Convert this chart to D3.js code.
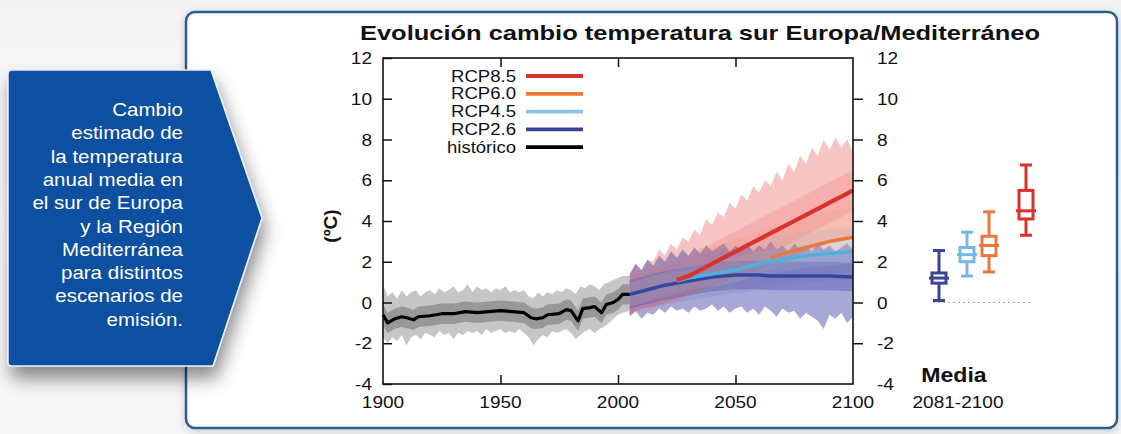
<!DOCTYPE html>
<html><head><meta charset="utf-8">
<script src="https://cdn.jsdelivr.net/npm/d3@7"></script>
<style>
html,body{margin:0;padding:0;background:#fff;}
svg{display:block;font-family:"Liberation Sans",Arial,sans-serif;}
</style></head>
<body><svg id="c" width="1121" height="434"></svg>
<script>
// ---------- DATA ----------
const title = "Evolución cambio temperatura sur Europa/Mediterráneo";
const calloutLines = ["Cambio","estimado de","la temperatura","anual media en","el sur de Europa","y la Región","Mediterránea","para distintos","escenarios de","emisión."];
const yTicks = [-4,-2,0,2,4,6,8,10,12];
const xTicks = [1900,1950,2000,2050,2100];
const scenarios = ["RCP8.5","RCP6.0","RCP4.5","RCP2.6","histórico"];

// historical ensemble mean
const histYears = [1900,1902,1905,1908,1910,1913,1915,1920,1925,1930,1935,1940,1945,1950,1955,1960,1963,1965,1968,1970,1975,1978,1980,1983,1985,1988,1990,1993,1995,1998,2000,2002,2005];
const histMean  = [-0.6,-1.0,-0.8,-0.7,-0.75,-0.85,-0.7,-0.65,-0.55,-0.55,-0.45,-0.5,-0.45,-0.4,-0.45,-0.5,-0.75,-0.8,-0.75,-0.6,-0.55,-0.35,-0.4,-0.9,-0.3,-0.25,-0.2,-0.5,-0.1,0.0,0.15,0.4,0.4];
// historical envelope (outer spread of members)
const envHistYears = [1900,1902,1904,1906,1908,1910,1912,1914,1916,1918,1920,1922,1924,1926,1928,1930,1932,1934,1936,1938,1940,1942,1944,1946,1948,1950,1952,1954,1956,1958,1960,1962,1964,1966,1968,1970,1972,1974,1976,1978,1980,1982,1984,1986,1988,1990,1992,1994,1996,1998,2000,2002,2005];
const histUpper = [0.9,0.3,0.5,0.2,0.6,0.3,0.5,0.6,0.3,0.5,0.6,0.4,0.7,0.5,0.6,0.8,0.5,0.6,0.9,0.5,0.8,0.6,0.7,0.5,0.7,0.6,0.8,0.5,0.6,0.5,0.6,0.3,0.2,0.5,0.3,0.5,0.4,0.6,0.5,0.7,0.6,0.4,0.8,0.7,0.9,0.8,0.6,0.9,1.0,1.1,1.2,1.3,1.3];
const histLower = [-1.7,-2.0,-1.7,-1.9,-1.6,-2.1,-1.7,-1.6,-1.8,-1.5,-1.6,-1.7,-1.4,-1.6,-1.5,-1.8,-1.5,-1.6,-1.4,-1.5,-1.4,-1.6,-1.3,-1.5,-1.4,-1.3,-1.5,-1.4,-1.5,-1.3,-1.5,-1.7,-2.1,-1.8,-1.6,-1.7,-1.4,-1.5,-1.4,-1.3,-1.5,-1.8,-1.6,-1.4,-1.3,-1.5,-1.3,-1.2,-1.0,-0.8,-0.6,-0.5,-0.4];

// projections (2005-2100), ensemble means
const projYears = [2005,2010,2015,2020,2025,2030,2035,2040,2045,2050,2055,2060,2065,2070,2075,2080,2085,2090,2095,2100];
const rcp85 = [0.4,0.55,0.7,0.9,1.1,1.3,1.6,1.9,2.2,2.5,2.8,3.1,3.4,3.7,4.0,4.3,4.6,4.9,5.2,5.5];
const rcp60 = [0.4,0.55,0.7,0.8,0.9,1.0,1.15,1.3,1.45,1.6,1.8,2.0,2.2,2.4,2.55,2.7,2.85,3.0,3.1,3.2];
const rcp45 = [0.4,0.55,0.75,0.9,1.05,1.2,1.3,1.4,1.5,1.6,1.75,1.9,2.0,2.1,2.2,2.3,2.35,2.4,2.45,2.5];
const rcp26 = [0.4,0.55,0.7,0.85,0.95,1.05,1.15,1.25,1.3,1.35,1.35,1.35,1.3,1.3,1.3,1.3,1.3,1.3,1.28,1.25];
// projection member envelopes (5-year)
const rcp85Lower = [-0.6,-0.3,-0.2,0.0,0.2,0.4,0.6,0.8,1.0,1.2,1.4,1.6,1.9,2.1,2.3,2.5,2.7,2.9,3.0,3.2];
const rcp60Upper = [1.2,1.5,1.7,1.9,2.1,2.3,2.5,2.7,2.9,3.1,3.3,3.5,3.7,3.9,4.1,4.3,4.4,4.5,4.6,4.6];
const rcp60Lower = [-0.5,-0.3,-0.2,-0.1,0.0,0.1,0.2,0.3,0.4,0.5,0.6,0.8,0.9,1.0,1.1,1.2,1.3,1.4,1.5,1.5];
const rcp45Upper = [1.2,1.5,1.7,1.9,2.1,2.3,2.4,2.6,2.7,2.8,3.0,3.1,3.2,3.3,3.4,3.5,3.5,3.6,3.6,3.6];
const rcp45Lower = [-0.5,-0.3,-0.2,-0.1,0.0,0.1,0.2,0.3,0.35,0.4,0.5,0.6,0.7,0.8,0.9,1.0,1.0,1.1,1.1,1.2];
// finer envelopes (every 2.5 years, 2005-2100)
const fineYears = [2005,2007.5,2010,2012.5,2015,2017.5,2020,2022.5,2025,2027.5,2030,2032.5,2035,2037.5,2040,2042.5,2045,2047.5,2050,2052.5,2055,2057.5,2060,2062.5,2065,2067.5,2070,2072.5,2075,2077.5,2080,2082.5,2085,2087.5,2090,2092.5,2095,2097.5,2100];
const rcp85Upper = [1.4,1.9,1.6,2.1,2.0,2.6,2.3,2.9,2.6,3.2,3.0,3.6,3.3,4.1,3.8,4.4,4.2,4.9,4.6,5.3,5.0,5.7,5.4,6.0,5.7,6.4,6.0,6.8,6.4,7.2,6.8,7.6,7.2,8.0,7.5,8.1,7.6,8.0,7.4];
const rcp26Lower = [-0.7,-0.4,-0.8,-0.5,-0.6,-0.3,-0.5,-0.2,-0.4,-0.3,-0.5,-0.2,-0.4,-0.3,-0.1,-0.4,-0.2,-0.5,-0.3,-0.2,-0.5,-0.3,-0.6,-0.2,-0.4,-0.7,-0.3,-0.5,-0.4,-0.8,-0.5,-0.7,-0.9,-1.3,-0.6,-0.8,-0.5,-1.0,-0.7];
const rcp26Upper = [1.4,1.9,1.6,2.1,1.8,2.3,2.0,2.5,2.2,2.6,2.3,2.7,2.4,2.8,2.5,2.7,2.9,2.5,2.8,2.6,2.9,2.5,2.8,2.6,3.0,2.6,2.8,2.5,2.9,2.6,2.8,2.5,2.9,2.6,2.8,2.5,2.7,2.9,2.6];

// box plots 2081-2100 : [low whisker, q1, median, q3, high whisker]
const boxNames = ["RCP2.6","RCP4.5","RCP6.0","RCP8.5"];
const boxLow  = [0.1,1.3,1.5,3.3];
const boxQ1   = [0.95,2.0,2.3,4.1];
const boxMed  = [1.2,2.35,2.8,4.5];
const boxQ3   = [1.45,2.7,3.25,5.5];
const boxHigh = [2.55,3.45,4.45,6.75];

// ---------- STYLE ----------
const colors = {"RCP8.5":"#d8332a","RCP6.0":"#e8793a","RCP4.5":"#8cc3e8","RCP2.6":"#3a4496","histórico":"#000"};
const meanColors = {"RCP8.5":"#d8332a","RCP6.0":"#e8793a","RCP4.5":"#4fb0e0","RCP2.6":"#3446a0"};
const bandColors = {"RCP8.5":"#ee7070","RCP6.0":"#f0a070","RCP4.5":"#90c0e8","RCP2.6":"#5152b0"};
const boxColors = {"RCP2.6":"#3a4496","RCP4.5":"#74b6e4","RCP6.0":"#e8793a","RCP8.5":"#d8332a"};

const svg = d3.select("#c");
const defs = svg.append("defs");
const f1 = defs.append("filter").attr("id","sh").attr("x","-20%").attr("y","-20%").attr("width","150%").attr("height","160%");
f1.append("feDropShadow").attr("dx",3).attr("dy",12).attr("stdDeviation",9).attr("flood-color","#000").attr("flood-opacity",0.45);
const f2 = defs.append("filter").attr("id","sh2").attr("x","-5%").attr("y","-5%").attr("width","110%").attr("height","115%");
f2.append("feDropShadow").attr("dx",0).attr("dy",2).attr("stdDeviation",4).attr("flood-color","#000").attr("flood-opacity",0.18);

const bg = defs.append("linearGradient").attr("id","bg").attr("x1",0).attr("y1",0).attr("x2",0).attr("y2",1);
bg.append("stop").attr("offset","0").attr("stop-color","#f3f3f3");
bg.append("stop").attr("offset","0.5").attr("stop-color","#fdfdfd");
bg.append("stop").attr("offset","1").attr("stop-color","#f6f6f6");
svg.append("rect").attr("width",1121).attr("height",434).attr("fill","url(#bg)");

// panel
svg.append("rect").attr("x",186).attr("y",12).attr("width",931).attr("height",416).attr("rx",9)
  .attr("fill","#fff").attr("stroke","#2b5c92").attr("stroke-width",2.5).attr("filter","url(#sh2)");

// ---------- CHART ----------
const x = d3.scaleLinear().domain([1900,2100]).range([383,853]);
const y = d3.scaleLinear().domain([-4,12]).range([384,58]);

const areaXY = (xl, lo, xh, hi) => {
  // polygon: upper edge forward, lower edge back
  const pts = xh.map((t,i)=>[x(t),y(hi[i])]).concat(xl.map((t,i)=>[x(t),y(lo[i])]).reverse());
  return d3.line()(pts) + "Z";
};
const line = (xs, v) => d3.line().x((d,i)=>x(xs[i])).y((d,i)=>y(v[i]))(xs);

const plot = svg.append("g");
// historical spread
plot.append("path").attr("d",areaXY(envHistYears,histLower,envHistYears,histUpper)).attr("fill","#a0a0a0").attr("opacity",0.6);
plot.append("path").attr("d",areaXY(histYears,histMean.map(v=>v-0.5),histYears,histMean.map(v=>v+0.5))).attr("fill","#6a6a6a").attr("opacity",0.5);

// projection spreads
const proj = [
  ["RCP8.5",projYears,rcp85Lower,fineYears,rcp85Upper,0.42],
  ["RCP6.0",projYears,rcp60Lower,projYears,rcp60Upper,0.16],
  ["RCP4.5",projYears,rcp45Lower,projYears,rcp45Upper,0.18],
  ["RCP2.6",fineYears,rcp26Lower,fineYears,rcp26Upper,0.5]
];
proj.forEach(([n,xl,lo,xh,hi,op])=>{
  plot.append("path").attr("d",areaXY(xl,lo,xh,hi)).attr("fill",bandColors[n]).attr("opacity",op);
});
// denser core of each ensemble
const core = [["RCP8.5",rcp85,1.0,0.25],["RCP2.6",rcp26,0.7,0.4],["RCP4.5",rcp45,0.6,0.2],["RCP6.0",rcp60,0.6,0.15]];
core.forEach(([n,m,w,op])=>{
  plot.append("path").attr("d",areaXY(projYears,m.map(v=>v-w),projYears,m.map(v=>v+w))).attr("fill",bandColors[n]).attr("opacity",op);
});

// means
plot.append("path").attr("d",line(histYears,histMean)).attr("fill","none").attr("stroke","#000").attr("stroke-width",3.2).attr("stroke-linejoin","round");
[["RCP2.6",rcp26],["RCP4.5",rcp45],["RCP6.0",rcp60],["RCP8.5",rcp85]].forEach(([n,v])=>{
  const start = n==="RCP8.5"?4:(n==="RCP6.0"?12:(n==="RCP4.5"?4:0));
  plot.append("path").attr("d",line(projYears.slice(start),v.slice(start))).attr("fill","none")
    .attr("stroke",meanColors[n]).attr("stroke-width",n==="RCP8.5"?4.2:3.5).attr("stroke-linejoin","round");
});

// frame
svg.append("rect").attr("x",383).attr("y",58).attr("width",470).attr("height",326).attr("fill","none").attr("stroke","#111").attr("stroke-width",1.6);

// axes ticks
const axL = svg.append("g").attr("transform","translate(383,0)").call(d3.axisRight(y).tickValues(yTicks).tickSize(9).tickFormat(""));
axL.select(".domain").remove();
const axR = svg.append("g").attr("transform","translate(853,0)").call(d3.axisRight(y).tickValues(yTicks.filter(v=>v>-4&&v<12)).tickSize(10).tickFormat(""));
axR.select(".domain").remove();
const axB = svg.append("g").attr("transform","translate(0,384)").call(d3.axisTop(x).tickValues(xTicks.slice(1,4)).tickSize(9).tickFormat(""));
axB.select(".domain").remove();
const axT = svg.append("g").attr("transform","translate(0,58)").call(d3.axisBottom(x).tickValues(xTicks.slice(1,4)).tickSize(9).tickFormat(""));
axT.select(".domain").remove();
svg.selectAll(".tick line").attr("stroke","#111").attr("stroke-width",1.5);

// tick labels (slightly wide, as in the original)
const wide = (sel, ax, ay, sx) => sel.attr("transform",`translate(${ax},${ay}) scale(${sx},1)`);
svg.append("g").selectAll("text").data(yTicks).join("text")
  .attr("text-anchor","end").attr("font-size",17).attr("fill","#111").text(d=>d)
  .each(function(d){ wide(d3.select(this),372,y(d)+6,1.12); });
svg.append("g").selectAll("text").data(yTicks).join("text")
  .attr("text-anchor","start").attr("font-size",17).attr("fill","#111").text(d=>d)
  .each(function(d){ wide(d3.select(this),877,y(d)+6,1.12); });
svg.append("g").selectAll("text").data(xTicks).join("text")
  .attr("text-anchor","middle").attr("font-size",17).attr("fill","#111").text(d=>d)
  .each(function(d){ wide(d3.select(this),x(d),408,1.12); });

// y label
svg.append("text").attr("transform","translate(337,226) rotate(-90)").attr("text-anchor","middle")
  .attr("font-size",19).attr("font-weight","bold").attr("fill","#111").text("(ºC)");

// title
svg.append("text").attr("x",360).attr("y",40).attr("font-size",21).attr("font-weight","bold").attr("fill","#111")
  .attr("textLength",680).attr("lengthAdjust","spacingAndGlyphs").text(title);

// legend
const leg = svg.append("g");
scenarios.forEach((s,i)=>{
  const yy = 76 + i*17.8;
  leg.append("text").attr("text-anchor","end").attr("font-size",16).attr("fill","#111").text(s)
    .attr("transform",`translate(516,${yy+5.5}) scale(1.16,1)`);
  leg.append("line").attr("x1",526).attr("x2",583).attr("y1",yy).attr("y2",yy).attr("stroke",colors[s]).attr("stroke-width",3.8);
});

// box plots
const bx = d3.scaleOrdinal().domain(boxNames).range([939,967,989,1026]);
svg.append("line").attr("x1",933).attr("x2",1030).attr("y1",y(0)).attr("y2",y(0)).attr("stroke","#aaa").attr("stroke-width",1).attr("stroke-dasharray","2,3");
boxNames.forEach((n,i)=>{
  const g = svg.append("g").attr("stroke",boxColors[n]).attr("stroke-width",3).attr("fill","none");
  const cx = bx(n);
  g.append("line").attr("x1",cx).attr("x2",cx).attr("y1",y(boxLow[i])).attr("y2",y(boxHigh[i]));
  g.append("line").attr("x1",cx-6).attr("x2",cx+6).attr("y1",y(boxLow[i])).attr("y2",y(boxLow[i]));
  g.append("line").attr("x1",cx-6).attr("x2",cx+6).attr("y1",y(boxHigh[i])).attr("y2",y(boxHigh[i]));
  g.append("rect").attr("x",cx-7).attr("width",14).attr("y",y(boxQ3[i])).attr("height",y(boxQ1[i])-y(boxQ3[i])).attr("fill","#fff");
  g.append("line").attr("x1",cx-10).attr("x2",cx+10).attr("y1",y(boxMed[i])).attr("y2",y(boxMed[i]));
});
svg.append("text").attr("text-anchor","middle").attr("font-size",21).attr("font-weight","bold").attr("fill","#111").text("Media")
  .attr("transform","translate(954,382) scale(1.1,1)");
svg.append("text").attr("text-anchor","middle").attr("font-size",17).attr("fill","#111").text("2081-2100")
  .attr("transform","translate(958,408) scale(1.12,1)");

// ---------- CALLOUT ----------
const co = svg.append("g");
co.append("path").attr("d","M8,74 Q8,70 12,70 L211,70 L262,218 L213,366 L12,366 Q8,366 8,362 Z")
  .attr("fill","#0b50a0").attr("stroke","#e8eef6").attr("stroke-width",1.5).attr("filter","url(#sh)");
calloutLines.forEach((t,i)=>{
  co.append("text").attr("text-anchor","end").attr("font-size",18).attr("fill","#fff").text(t)
    .attr("transform",`translate(183,${116+i*23.3}) scale(1.14,1)`);
});
</script></body></html>
